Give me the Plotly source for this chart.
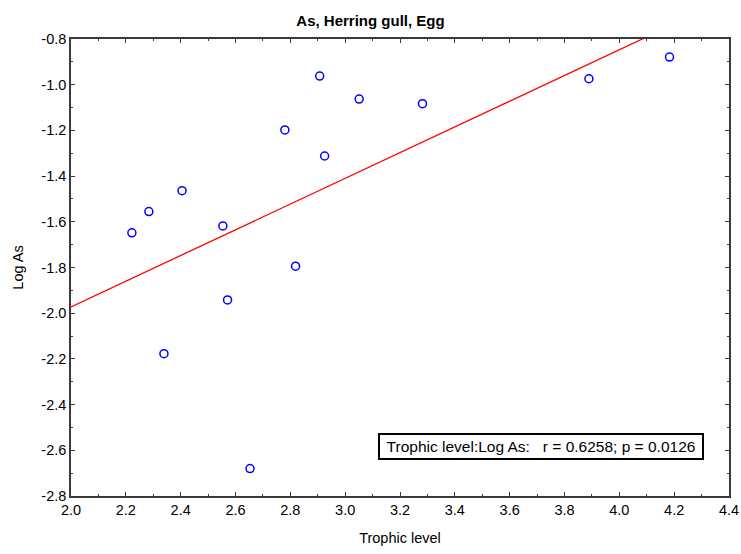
import numpy as np
import plotly.graph_objects as go

# Trophic level vs log arsenic concentration in herring gull eggs
trophic_level = [2.907, 3.051, 2.780, 2.925, 2.405, 3.282, 3.889, 4.183,
                 2.222, 2.284, 2.554, 2.819, 2.571, 2.339, 2.653]
log_as = [-0.962, -1.063, -1.198, -1.312, -1.464, -1.083, -0.974, -0.879,
          -1.648, -1.555, -1.618, -1.794, -1.942, -2.177, -2.680]

x_ticks = [2.0, 2.2, 2.4, 2.6, 2.8, 3.0, 3.2, 3.4, 3.6, 3.8, 4.0, 4.2, 4.4]
y_ticks = [-0.8, -1.0, -1.2, -1.4, -1.6, -1.8, -2.0, -2.2, -2.4, -2.6, -2.8]
y_tick_text = ["-0.8", "-1.0", "-1.2", "-1.4", "-1.6", "-1.8", "-2.0",
               "-2.2", "-2.4", "-2.6", "-2.8"]

corr_r = "0.6258"
corr_p = "0.0126"

x = np.array(trophic_level)
y = np.array(log_as)
slope, intercept = np.polyfit(x, y, 1)

fit_x = np.array([x_ticks[0], x_ticks[-1]])
fit_y = intercept + slope * fit_x

FONT = "Liberation Sans, Arial, sans-serif"
AXIS_COLOR = "#3a3a3a"

fig = go.Figure()
fig.add_trace(go.Scatter(
    x=fit_x, y=fit_y, mode="lines",
    line=dict(color="#ff0000", width=1.3),
    hoverinfo="skip", showlegend=False,
))
fig.add_trace(go.Scatter(
    x=trophic_level, y=log_as, mode="markers",
    marker=dict(symbol="circle-open", size=8, color="#0000ff",
                line=dict(width=1.5, color="#0000ff")),
    showlegend=False,
))

axis_common = dict(
    showline=True, linecolor=AXIS_COLOR, linewidth=1.5, mirror="allticks",
    ticks="inside", ticklen=4, tickwidth=1, tickcolor=AXIS_COLOR,
    showgrid=False, zeroline=False, automargin=False,
    tickfont=dict(family=FONT, size=14.5, color="black"),
)

fig.update_layout(
    width=741, height=554,
    margin=dict(l=71, r=12, t=39, b=58),
    paper_bgcolor="white", plot_bgcolor="white",
    font=dict(family=FONT, color="black"),
    title=dict(text="<b>As, Herring gull, Egg</b>", x=0.5, xanchor="center",
               y=1 - 21 / 554, yanchor="middle", automargin=False,
               font=dict(family=FONT, size=15, color="black")),
    xaxis=dict(
        range=[2.0, 4.4], tickvals=x_ticks,
        ticktext=[f"{v:.1f}" for v in x_ticks],
        minor=dict(ticks="inside", ticklen=2.5, dtick=0.1, tick0=2.0,
                   tickcolor=AXIS_COLOR, showgrid=False),
        title=dict(text="Trophic level", font=dict(family=FONT, size=14.5),
                   standoff=16),
        **axis_common,
    ),
    yaxis=dict(
        range=[-2.8, -0.8], tickvals=y_ticks, ticktext=y_tick_text,
        minor=dict(ticks="inside", ticklen=2.5, dtick=0.1, tick0=-2.8,
                   tickcolor=AXIS_COLOR, showgrid=False),
        title=dict(text="Log As", font=dict(family=FONT, size=14.5),
                   standoff=14),
        **axis_common,
    ),
)

nb = "\u00a0"
fig.add_annotation(
    xref="paper", yref="paper", x=(541 - 71) / 658, y=(496 - 446.5) / 457,
    xanchor="center", yanchor="middle", showarrow=False,
    text=f"Trophic level:Log As:{nb*3}r = {corr_r}; p = {corr_p}",
    font=dict(family=FONT, size=15.5, color="black"),
    width=318, height=19, align="center",
    bgcolor="white", bordercolor="black", borderwidth=2, borderpad=2,
)

fig.write_html("out.html")
